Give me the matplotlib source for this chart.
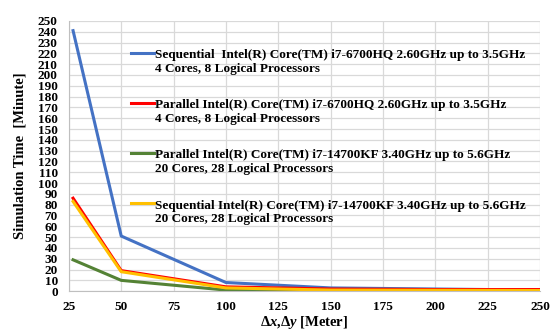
import numpy as np
import matplotlib.pyplot as plt

plt.rcParams['font.family'] = ['Liberation Serif', 'DejaVu Serif']
plt.rcParams['mathtext.fontset'] = 'custom'
plt.rcParams['mathtext.rm'] = 'Liberation Serif:bold'
plt.rcParams['mathtext.it'] = 'Liberation Serif:bold:italic'

dxy = [27, 50, 100, 150, 200, 250]
seq_6700 = [241, 51, 8, 3, 2, 1]
par_6700 = [86, 19, 4, 2, 1.5, 1.5]
par_14700 = [29, 10, 1, 0.5, 0.4, 0.3]
seq_14700 = [83, 18, 3, 1, 0.8, 0.6]

labels = [
    "Sequential  Intel(R) Core(TM) i7-6700HQ 2.60GHz up to 3.5GHz\n4 Cores, 8 Logical Processors",
    "Parallel Intel(R) Core(TM) i7-6700HQ 2.60GHz up to 3.5GHz\n4 Cores, 8 Logical Processors",
    "Parallel Intel(R) Core(TM) i7-14700KF 3.40GHz up to 5.6GHz\n20 Cores, 28 Logical Processors",
    "Sequential Intel(R) Core(TM) i7-14700KF 3.40GHz up to 5.6GHz\n20 Cores, 28 Logical Processors",
]
colors = ['#4472C4', '#FF0000', '#548235', '#FFC000']

fig = plt.figure(figsize=(5.51, 3.32), dpi=100)
ax = fig.add_axes([0.125, 0.123, 0.855, 0.814])

for ys, c, lab in zip([seq_6700, par_6700, par_14700, seq_14700], colors, labels):
    ax.plot(dxy, ys, color=c, lw=2.2, label=lab)

ax.set_xlim(25, 250)
ax.set_ylim(0, 250)
ax.set_xticks(np.arange(25, 251, 25))
ax.set_yticks(np.arange(0, 251, 10))
ax.grid(True, color='#d9d9d9', lw=0.9)
ax.set_axisbelow(True)
for s in ['top', 'right']:
    ax.spines[s].set_visible(False)
for s in ['left', 'bottom']:
    ax.spines[s].set_color('#bfbfbf')
ax.tick_params(length=0, labelsize=9.5)
ax.tick_params(axis='y', pad=8)
ax.tick_params(axis='x', pad=7)
for t in ax.get_xticklabels() + ax.get_yticklabels():
    t.set_fontweight('bold')

ax.set_xlabel(r'$\Delta\mathit{x}$,$\Delta\mathit{y}$ [Meter]', fontsize=10.5, fontweight='bold', labelpad=1)
ax.set_ylabel('Simulation Time  [Minute]', fontsize=10.5, fontweight='bold', labelpad=8)

leg = ax.legend(loc='upper left', bbox_to_anchor=(0.106, 0.94), frameon=False,
                prop={'weight': 'bold', 'size': 9.5}, handlelength=1.8,
                handletextpad=0.05, labelspacing=1.85)
# legend line sits next to the first text line, like Excel
for h in leg.legend_handles:
    h.set_ydata(np.asarray(h.get_ydata()) + 6.5)

fig.savefig('out.png', dpi=100)
